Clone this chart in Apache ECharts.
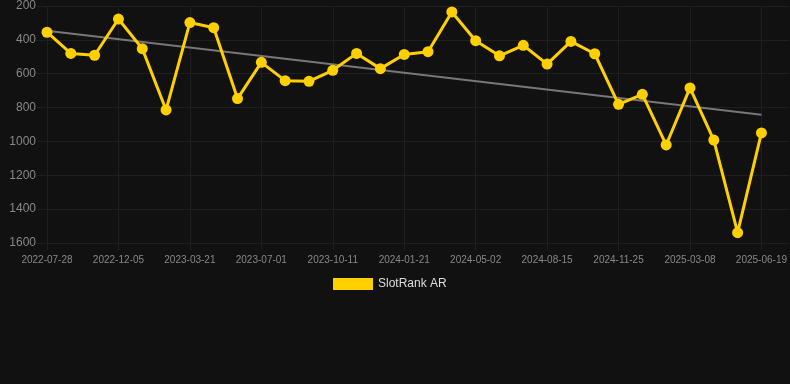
<!DOCTYPE html>
<html>
<head>
<meta charset="utf-8">
<style>
  html, body { margin: 0; padding: 0; background: #111111; }
  #chart { width: 790px; height: 384px; }
</style>
<script src="https://cdn.jsdelivr.net/npm/echarts@6/dist/echarts.min.js"></script>
</head>
<body>
<div id="chart"></div>
<script>
// dates on the x axis (every third one is labelled)
var dates = [
  '2022-07-28', '2022-09-10', '2022-10-23', '2022-12-05', '2023-01-10', '2023-02-14',
  '2023-03-21', '2023-04-24', '2023-05-28', '2023-07-01', '2023-08-04', '2023-09-07',
  '2023-10-11', '2023-11-14', '2023-12-18', '2024-01-21', '2024-02-24', '2024-03-29',
  '2024-05-02', '2024-06-05', '2024-07-10', '2024-08-15', '2024-09-17', '2024-10-22',
  '2024-11-25', '2024-12-29', '2025-02-01', '2025-03-08', '2025-04-11', '2025-05-16',
  '2025-06-19'
];

// rank values
var rankValues = [
  355, 480, 491, 277, 452, 814, 298, 328, 747, 533,
  641, 645, 580, 480, 570, 486, 470, 235, 405, 494,
  432, 543, 409, 482, 781, 722, 1021, 684, 992, 1539,
  950
];

// trend line: value at first and last date
var trendEnds = [346, 842];

var yTicks = { min: 200, max: 1600, step: 200 };

var trendData = dates.map(function (d, i) {
  if (i === 0) return trendEnds[0];
  if (i === dates.length - 1) return trendEnds[1];
  return null;
});

var gridColor = '#1f1f1f';

var chart = echarts.init(document.getElementById('chart'));

var option = {
  backgroundColor: '#111111',
  animation: false,
  textStyle: { fontFamily: 'Liberation Sans, Arial, sans-serif' },
  grid: {
    left: 47,
    right: 28,
    top: 6,
    bottom: 141
  },
  legend: {
    data: ['SlotRank AR'],
    top: 273,
    left: 328,
    itemWidth: 40,
    itemHeight: 12,
    itemGap: 10,
    icon: 'rect',
    textStyle: { color: '#dddddd', fontSize: 12 }
  },
  xAxis: {
    type: 'category',
    data: dates,
    boundaryGap: false,
    axisLine: { show: false },
    axisTick: {
      show: true,
      interval: 2,
      length: 7,
      lineStyle: { color: gridColor }
    },
    axisLabel: {
      interval: 2,
      color: '#888888',
      fontSize: 10,
      margin: 12
    },
    splitLine: {
      show: true,
      interval: 2,
      lineStyle: { color: gridColor, width: 1 }
    }
  },
  yAxis: [
    {
      type: 'value',
      inverse: true,
      min: yTicks.min,
      max: yTicks.max,
      interval: yTicks.step,
      axisLine: { show: false },
      axisTick: {
        show: true,
        length: 10,
        lineStyle: { color: gridColor }
      },
      axisLabel: {
        color: '#888888',
        fontSize: 12,
        margin: 11,
        formatter: function (v) { return String(v); }
      },
      splitLine: {
        show: true,
        lineStyle: { color: gridColor, width: 1 }
      }
    },
    {
      // only used to carry the grid lines on to the right edge
      type: 'value',
      position: 'right',
      inverse: true,
      min: yTicks.min,
      max: yTicks.max,
      interval: yTicks.step,
      axisLine: { show: false },
      axisTick: {
        show: true,
        length: 28,
        lineStyle: { color: gridColor }
      },
      axisLabel: { show: false },
      splitLine: { show: false }
    }
  ],
  series: [
    {
      name: 'Trend',
      type: 'line',
      data: trendData,
      connectNulls: true,
      showSymbol: false,
      symbol: 'none',
      lineStyle: { color: '#777777', width: 2 },
      z: 1,
      silent: true
    },
    {
      name: 'SlotRank AR',
      type: 'line',
      data: rankValues,
      symbol: 'circle',
      symbolSize: 11,
      itemStyle: { color: '#FFD000' },
      lineStyle: { color: '#FFD000', width: 3 },
      z: 2
    }
  ]
};

chart.setOption(option);
</script>
</body>
</html>
